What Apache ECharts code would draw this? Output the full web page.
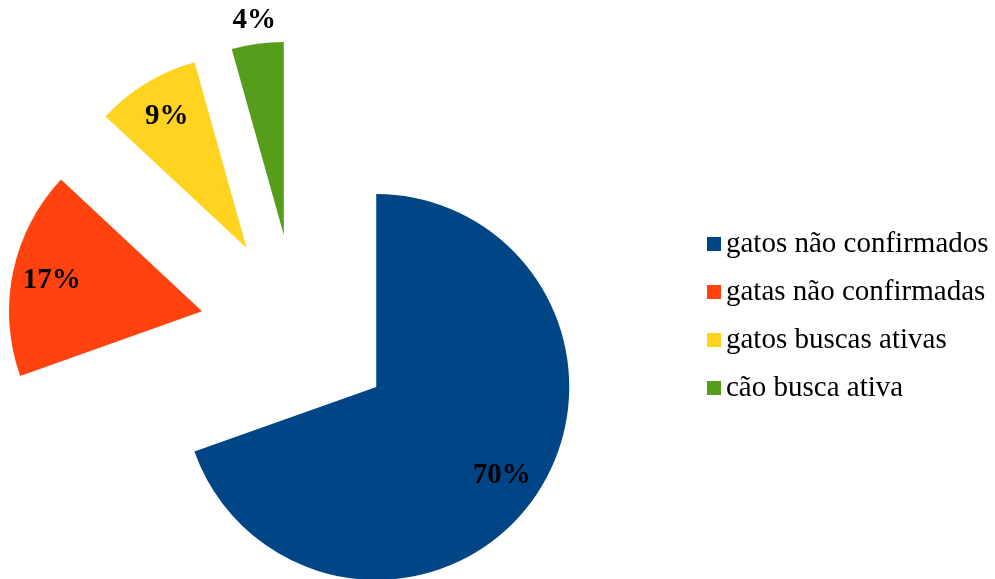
<!DOCTYPE html>
<html>
<head>
<meta charset="utf-8">
<script src="https://cdn.jsdelivr.net/npm/echarts@6/dist/echarts.min.js"></script>
<style>
  html, body { margin: 0; padding: 0; background: #ffffff; }
  #chart { width: 995px; height: 579px; }
</style>
</head>
<body>
<div id="chart"></div>
<script>
// Animals in the survey, by group (counts)
const categories = ['gatos não confirmados', 'gatas não confirmadas', 'gatos buscas ativas', 'cão busca ativa'];
const counts = [16, 4, 2, 1];
const colors = ['#004586', '#ff420e', '#ffd320', '#579d1c'];
// which percentage labels sit inside the slice (true) or just past its rim (false)
const labelInside = [true, true, true, false];

const center = [297, 331];
const R = 193;
const explode = 97;
const serif = 'Liberation Serif';

const chart = echarts.init(document.getElementById('chart'), null, { renderer: 'canvas' });

const pctLabel = {
  position: 'inside',
  formatter: '{d}%',
  color: '#000000',
  fontFamily: serif,
  fontWeight: 'bold',
  fontSize: 29
};

// Transparent ring that only carries the percentage text at a chosen radius
function labelRing(radius, showFlags) {
  return {
    type: 'pie',
    center: center,
    radius: radius,
    startAngle: 90,
    clockwise: true,
    silent: true,
    legendHoverLink: false,
    selectedMode: 'multiple',
    selectedOffset: explode,
    percentPrecision: 0,
    avoidLabelOverlap: false,
    itemStyle: { color: 'rgba(0,0,0,0)', borderWidth: 0 },
    emphasis: { disabled: true },
    label: pctLabel,
    labelLine: { show: false },
    data: categories.map((name, i) => ({
      name: name,
      value: counts[i],
      selected: true,
      label: { show: showFlags[i] }
    }))
  };
}

chart.setOption({
  animation: false,
  backgroundColor: '#ffffff',
  legend: {
    orient: 'vertical',
    left: 707,
    top: 229,
    padding: 0,
    icon: 'rect',
    itemWidth: 14,
    itemHeight: 14,
    itemGap: 18,
    selectedMode: false,
    textStyle: { fontFamily: serif, fontSize: 29, lineHeight: 30, color: '#000000' },
    data: categories.map((name, i) => ({ name: name, itemStyle: { color: colors[i] } }))
  },
  series: [
    {
      type: 'pie',
      center: center,
      radius: [0, R],
      startAngle: 90,
      clockwise: true,
      selectedMode: 'multiple',
      selectedOffset: explode,
      avoidLabelOverlap: false,
      emphasis: { disabled: true },
      label: { show: false },
      labelLine: { show: false },
      itemStyle: { borderWidth: 0 },
      data: categories.map((name, i) => ({
        name: name,
        value: counts[i],
        selected: true,
        itemStyle: { color: colors[i] }
      }))
    },
    labelRing([108, R], labelInside),
    labelRing([R, 234], labelInside.map(v => !v))
  ]
});
</script>
</body>
</html>
